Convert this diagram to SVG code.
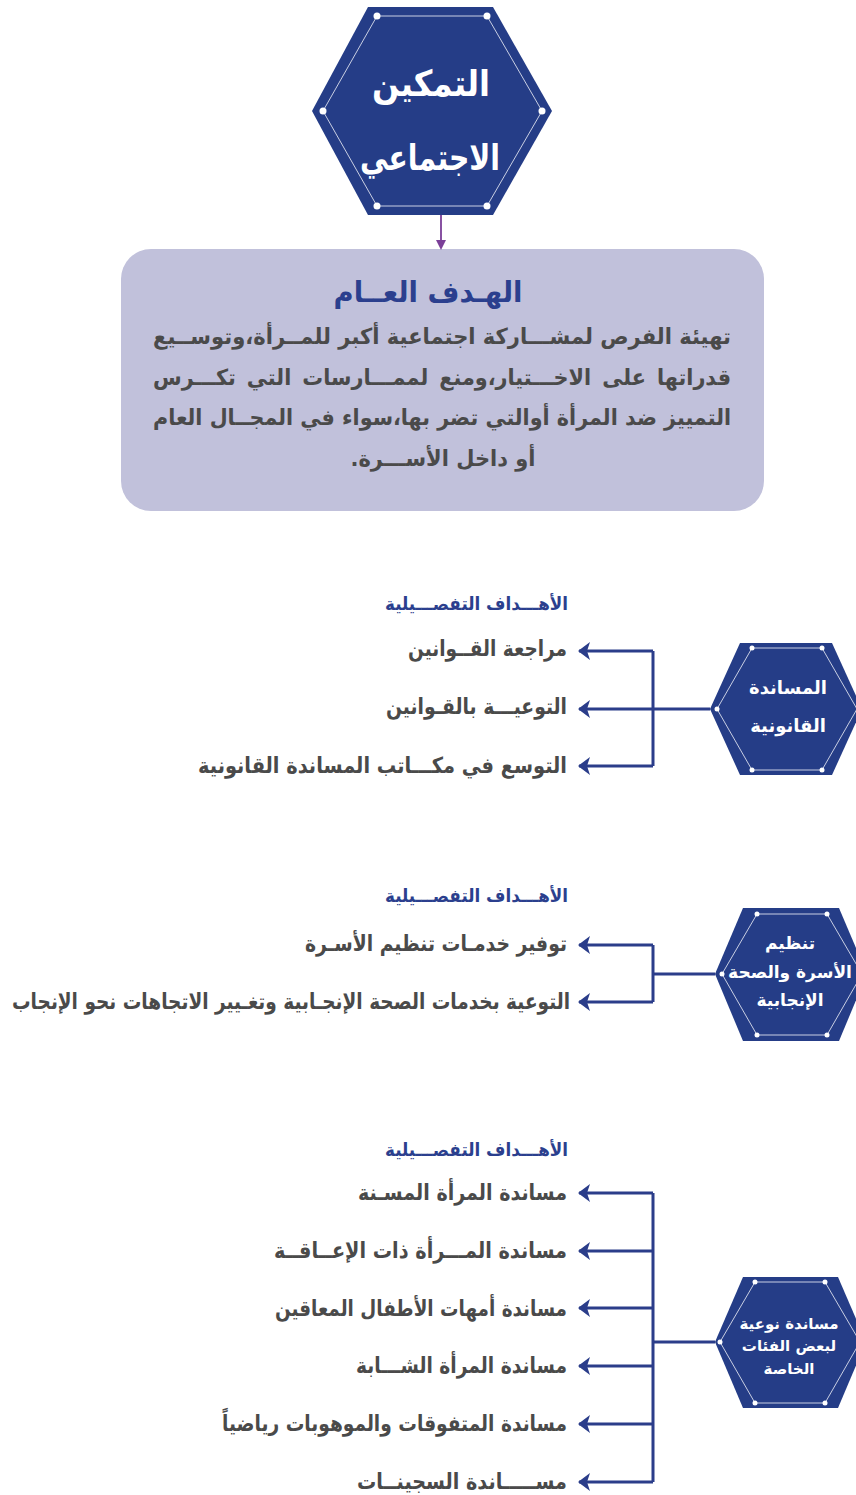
<svg xmlns="http://www.w3.org/2000/svg" width="856" height="1495" viewBox="0 0 856 1495">
<style>
text{font-family:'DejaVu Sans',sans-serif;direction:rtl;unicode-bidi:embed}
.hex{fill:#253d87}
.inner{fill:none;stroke:#c9cfe3;stroke-width:1}
.dot{fill:#ffffff}
.hw{fill:#ffffff;font-weight:bold;text-anchor:middle}
.item{fill:#4a4a4a;font-size:22px;font-weight:bold;text-anchor:start}
.head{fill:#2b3f8e;font-size:18px;font-weight:bold;text-anchor:start}
.body{fill:#4a4a4a;font-size:22px;font-weight:bold;text-anchor:start}
.mid{text-anchor:middle}
.conn{fill:none;stroke:#2b3d8a;stroke-width:3}
</style>
<defs>
<marker id="ah" viewBox="0 0 12 20" refX="11" refY="10" markerWidth="12" markerHeight="20" markerUnits="userSpaceOnUse" orient="auto">
<path d="M12,10 L0,1 L3,10 L0,19 Z" fill="#2b3d8a"/>
</marker>
</defs>
<rect width="856" height="1495" fill="#ffffff"/>

<g id="node-main">
<polygon class="hex" points="368,7 493,7 552,111 493,215 368,215 312,111"/>
<polygon class="inner" points="377,16 487,16 542,111 487,206 377,206 323,111"/>
<circle class="dot" cx="377" cy="16" r="3.5"/><circle class="dot" cx="487" cy="16" r="3.5"/>
<circle class="dot" cx="542" cy="111" r="3.5"/><circle class="dot" cx="487" cy="206" r="3.5"/>
<circle class="dot" cx="377" cy="206" r="3.5"/><circle class="dot" cx="323" cy="111" r="3.5"/>
<text class="hw" x="431" y="96" font-size="36" textLength="118" lengthAdjust="spacingAndGlyphs">التمكين</text>
<text class="hw" x="430" y="170" font-size="36" textLength="140" lengthAdjust="spacingAndGlyphs">الاجتماعي</text>
</g>

<g id="node-goal">
<rect x="121" y="249" width="643" height="262" rx="30" fill="#c1c1db"/>
<text class="mid" x="428" y="302" font-size="29" font-weight="bold" fill="#2b3f8e" textLength="189" lengthAdjust="spacingAndGlyphs">الهـدف العــام</text>
<text class="body" x="731" y="344" textLength="578" lengthAdjust="spacingAndGlyphs">تهيئة الفرص لمشـــاركة اجتماعية أكبر للمــرأة،وتوســيع</text>
<text class="body" x="731" y="385" word-spacing="4" textLength="578" lengthAdjust="spacingAndGlyphs">قدراتها على الاخـــتيار،ومنع لممـــارسات التي تكـــرس</text>
<text class="body" x="731" y="425" textLength="578" lengthAdjust="spacingAndGlyphs">التمييز ضد المرأة أوالتي تضر بها،سواء في المجــال العام</text>
<text class="body mid" x="443" y="466" textLength="185" lengthAdjust="spacingAndGlyphs">أو داخل الأســـرة.</text>
</g>

<g id="node-legal">
<polygon class="hex" points="740,643 832,643 862,709 832,775 740,775 710,709"/>
<polygon class="inner" points="752,648 822,648 857,709 822,770 752,770 717,709"/>
<circle class="dot" cx="752" cy="648" r="2.5"/><circle class="dot" cx="822" cy="648" r="2.5"/>
<circle class="dot" cx="717" cy="709" r="2.5"/><circle class="dot" cx="822" cy="770" r="2.5"/>
<circle class="dot" cx="752" cy="770" r="2.5"/>
<text class="hw" x="788" y="694" font-size="18">المساندة</text>
<text class="hw" x="788" y="732" font-size="18">القانونية</text>
</g>
<g id="goals-legal">
<text class="head" x="568" y="610" textLength="183" lengthAdjust="spacingAndGlyphs">الأهـــداف التفصـــيلية</text>
<text class="item" x="567" y="656" textLength="159" lengthAdjust="spacingAndGlyphs">مراجعة القــوانين</text>
<text class="item" x="567" y="714" textLength="181" lengthAdjust="spacingAndGlyphs">التوعيـــة بالقـوانين</text>
<text class="item" x="567" y="773" textLength="369" lengthAdjust="spacingAndGlyphs">التوسع في مكـــاتب المساندة القانونية</text>
</g>

<g id="node-family">
<polygon class="hex" points="743,908 839,908 867,974 839,1041 743,1041 715,974"/>
<polygon class="inner" points="757,914 827,914 862,974 827,1035 757,1035 722,974"/>
<circle class="dot" cx="757" cy="914" r="2.5"/><circle class="dot" cx="827" cy="914" r="2.5"/>
<circle class="dot" cx="722" cy="974" r="2.5"/><circle class="dot" cx="827" cy="1035" r="2.5"/>
<circle class="dot" cx="757" cy="1035" r="2.5"/>
<text class="hw" x="790" y="949" font-size="17">تنظيم</text>
<text class="hw" x="790" y="978" font-size="17">الأسرة والصحة</text>
<text class="hw" x="790" y="1006" font-size="17">الإنجابية</text>
</g>
<g id="goals-family">
<text class="head" x="568" y="902" textLength="183" lengthAdjust="spacingAndGlyphs">الأهـــداف التفصـــيلية</text>
<text class="item" x="567" y="951" textLength="262" lengthAdjust="spacingAndGlyphs">توفير خدمـات تنظيم الأسـرة</text>
<text class="item" x="570" y="1009" textLength="558" lengthAdjust="spacingAndGlyphs">التوعية بخدمات الصحة الإنجـابية وتغـيير الاتجاهات نحو الإنجاب</text>
</g>

<g id="node-special">
<polygon class="hex" points="743,1277 838,1277 866,1342 838,1408 743,1408 715,1342"/>
<polygon class="inner" points="755,1282 825,1282 860,1342 825,1403 755,1403 720,1342"/>
<circle class="dot" cx="755" cy="1282" r="2.5"/><circle class="dot" cx="825" cy="1282" r="2.5"/>
<circle class="dot" cx="720" cy="1342" r="2.5"/><circle class="dot" cx="825" cy="1403" r="2.5"/>
<circle class="dot" cx="755" cy="1403" r="2.5"/>
<text class="hw" x="789" y="1329" font-size="15">مساندة نوعية</text>
<text class="hw" x="789" y="1351" font-size="15">لبعض الفئات</text>
<text class="hw" x="789" y="1374" font-size="15">الخاصة</text>
</g>
<g id="goals-special">
<text class="head" x="568" y="1156" textLength="183" lengthAdjust="spacingAndGlyphs">الأهـــداف التفصـــيلية</text>
<text class="item" x="567" y="1200" textLength="209" lengthAdjust="spacingAndGlyphs">مساندة المرأة المسـنة</text>
<text class="item" x="567" y="1258" textLength="293" lengthAdjust="spacingAndGlyphs">مساندة المـــرأة ذات الإعــاقــة</text>
<text class="item" x="567" y="1316" textLength="292" lengthAdjust="spacingAndGlyphs">مساندة أمهات الأطفال المعاقين</text>
<text class="item" x="567" y="1373" textLength="211" lengthAdjust="spacingAndGlyphs">مساندة المرأة الشـــابة</text>
<text class="item" x="567" y="1431" textLength="345" lengthAdjust="spacingAndGlyphs">مساندة المتفوقات والموهوبات رياضياً</text>
<text class="item" x="567" y="1489" textLength="210" lengthAdjust="spacingAndGlyphs">مســـــاندة السجينــات</text>
</g>

<g id="connectors">
<line x1="441" y1="215" x2="441" y2="244" stroke="#7b3f98" stroke-width="1.8"/>
<path d="M436,240 L441,250 L446,240 Z" fill="#7b3f98"/>
<path class="conn" d="M710,709 H653"/>
<path class="conn" d="M653,651 V766"/>
<path class="conn" d="M653,651 H579" marker-end="url(#ah)"/>
<path class="conn" d="M653,709 H579" marker-end="url(#ah)"/>
<path class="conn" d="M653,766 H579" marker-end="url(#ah)"/>
<path class="conn" d="M715,974 H653"/>
<path class="conn" d="M653,945 V1002"/>
<path class="conn" d="M653,945 H579" marker-end="url(#ah)"/>
<path class="conn" d="M653,1002 H579" marker-end="url(#ah)"/>
<path class="conn" d="M715,1342 H653"/>
<path class="conn" d="M653,1193 V1482"/>
<path class="conn" d="M653,1193 H579" marker-end="url(#ah)"/>
<path class="conn" d="M653,1251 H579" marker-end="url(#ah)"/>
<path class="conn" d="M653,1308 H579" marker-end="url(#ah)"/>
<path class="conn" d="M653,1366 H579" marker-end="url(#ah)"/>
<path class="conn" d="M653,1424 H579" marker-end="url(#ah)"/>
<path class="conn" d="M653,1482 H579" marker-end="url(#ah)"/>
</g>
</svg>
